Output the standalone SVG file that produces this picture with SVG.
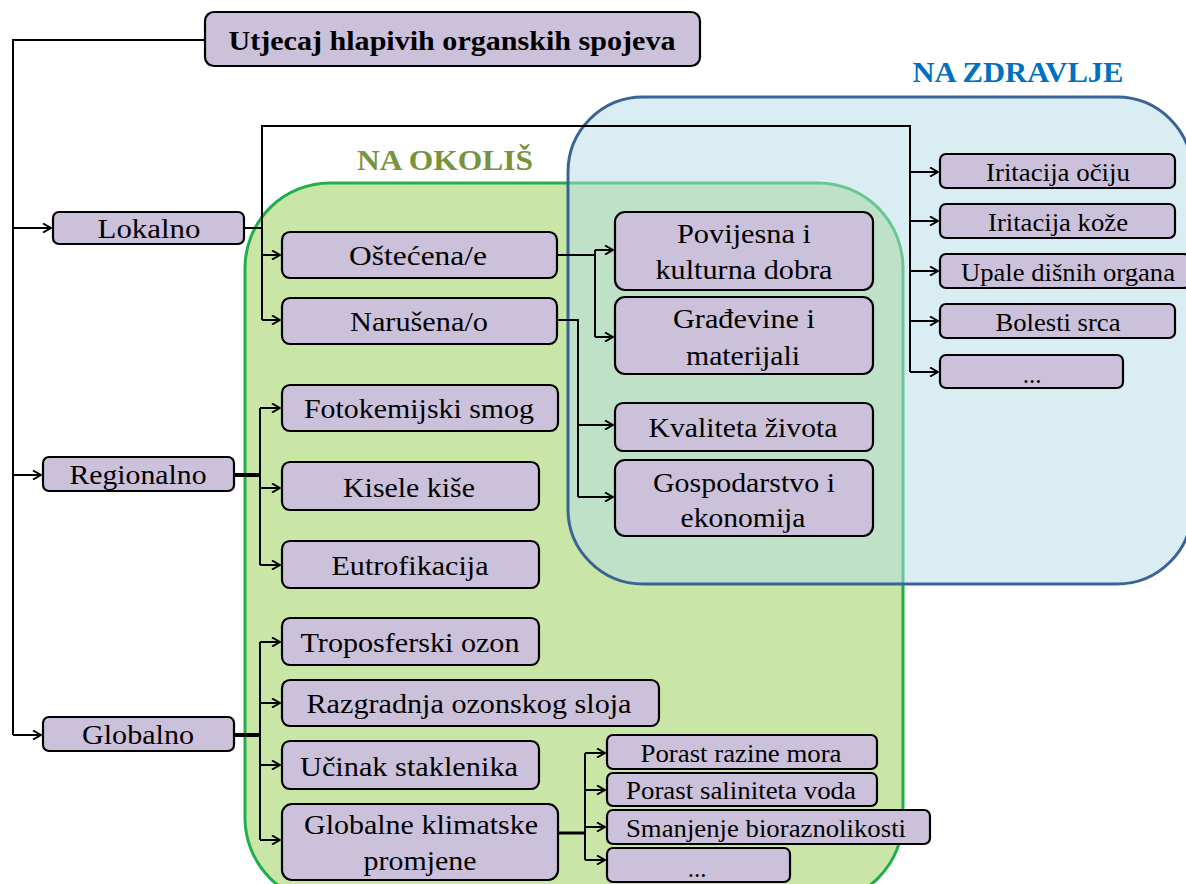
<svg xmlns="http://www.w3.org/2000/svg" width="1186" height="884" viewBox="0 0 1186 884">
<style>
.n{fill:#ccc1da;stroke:#000;stroke-width:2.2}
.t{font-size:28px;fill:#000;text-anchor:middle}
.s{font-size:25px}
.c{fill:none;stroke:#000;stroke-width:2}
.h{font-weight:bold;font-size:29px;text-anchor:middle}
</style>
<defs>
<marker id="a" viewBox="0 0 10 10" refX="9" refY="5" markerWidth="10" markerHeight="10" markerUnits="userSpaceOnUse" orient="auto">
<path d="M1,0.5 L9,5 L1,9.5" fill="none" stroke="#000" stroke-width="2"/>
</marker>
</defs>
<rect width="1186" height="884" fill="#fff"/>
<g id="area-okolis">
<rect x="245" y="183" width="658" height="720" rx="85" fill="#c9e6a7" stroke="#1fae4b" stroke-width="3"/>
<text class="h" font-family="Liberation Serif" x="445" y="170" fill="#77933c" textLength="176" lengthAdjust="spacingAndGlyphs">NA  OKOLIŠ</text>
</g>
<g id="area-zdravlje">
<rect x="568" y="97" width="624" height="487" rx="75" fill="#b5dbe7" fill-opacity="0.5" stroke="#3b6496" stroke-width="3"/>
<text class="h" font-family="Liberation Serif" x="1018" y="82" fill="#0070c0" textLength="211" lengthAdjust="spacingAndGlyphs">NA  ZDRAVLJE</text>
</g>
<g id="connectors" class="c">
<path d="M205,40 H13 V735"/>
<path d="M13,228 H51" marker-end="url(#a)"/>
<path d="M13,475 H41" marker-end="url(#a)"/>
<path d="M13,735 H41" marker-end="url(#a)"/>
<path d="M244,228 H262"/>
<path d="M262,320 V126 H910 V372"/>
<path d="M262,255 H280" marker-end="url(#a)"/>
<path d="M262,320 H280" marker-end="url(#a)"/>
<path d="M910,172 H938" marker-end="url(#a)"/>
<path d="M910,221 H938" marker-end="url(#a)"/>
<path d="M910,271 H938" marker-end="url(#a)"/>
<path d="M910,321 H938" marker-end="url(#a)"/>
<path d="M910,372 H938" marker-end="url(#a)"/>
<path d="M557,255 H595 M595,250 V337"/>
<path d="M595,250 H613" marker-end="url(#a)"/>
<path d="M595,337 H613" marker-end="url(#a)"/>
<path d="M557,320 H578 V497"/>
<path d="M578,425 H613" marker-end="url(#a)"/>
<path d="M578,497 H613" marker-end="url(#a)"/>
<path d="M234,475 H260" stroke-width="4"/>
<path d="M260,408 V565"/>
<path d="M260,408 H280" marker-end="url(#a)"/>
<path d="M260,488 H280" marker-end="url(#a)"/>
<path d="M260,565 H280" marker-end="url(#a)"/>
<path d="M234,735 H260" stroke-width="4"/>
<path d="M260,642 V840"/>
<path d="M260,642 H280" marker-end="url(#a)"/>
<path d="M260,703 H280" marker-end="url(#a)"/>
<path d="M260,765 H280" marker-end="url(#a)"/>
<path d="M260,840 H280" marker-end="url(#a)"/>
<path d="M558,833 H585" stroke-width="3"/>
<path d="M585,753 V860"/>
<path d="M585,753 H605" marker-end="url(#a)"/>
<path d="M585,790 H605" marker-end="url(#a)"/>
<path d="M585,827 H605" marker-end="url(#a)"/>
<path d="M585,860 H605" marker-end="url(#a)"/>
</g>
<g id="n-root"><rect class="n" x="205" y="12" width="495" height="54" rx="9"/><text class="t" font-family="Liberation Serif" x="452" y="50" font-weight="bold" font-size="30" textLength="447" lengthAdjust="spacingAndGlyphs">Utjecaj hlapivih organskih spojeva</text></g>
<g id="n-lokalno"><rect class="n" x="53" y="212" width="191" height="32" rx="6"/><text class="t" font-family="Liberation Serif" x="149" y="238" textLength="103" lengthAdjust="spacingAndGlyphs">Lokalno</text></g>
<g id="n-regionalno"><rect class="n" x="43" y="457" width="191" height="34" rx="6"/><text class="t" font-family="Liberation Serif" x="138" y="484" textLength="137" lengthAdjust="spacingAndGlyphs">Regionalno</text></g>
<g id="n-globalno"><rect class="n" x="43" y="717" width="191" height="34" rx="6"/><text class="t" font-family="Liberation Serif" x="138" y="744" textLength="112" lengthAdjust="spacingAndGlyphs">Globalno</text></g>
<g id="n-ostecena"><rect class="n" x="282" y="232" width="275" height="46" rx="8"/><text class="t" font-family="Liberation Serif" x="418" y="265" textLength="138" lengthAdjust="spacingAndGlyphs">Oštećena/e</text></g>
<g id="n-narusena"><rect class="n" x="282" y="298" width="275" height="46" rx="8"/><text class="t" font-family="Liberation Serif" x="419" y="331" textLength="138" lengthAdjust="spacingAndGlyphs">Narušena/o</text></g>
<g id="n-povijesna"><rect class="n" x="615" y="212" width="258" height="78" rx="10"/><text class="t" font-family="Liberation Serif" x="744" y="243" textLength="134" lengthAdjust="spacingAndGlyphs">Povijesna i</text><text class="t" font-family="Liberation Serif" x="744" y="279" textLength="177" lengthAdjust="spacingAndGlyphs">kulturna dobra</text></g>
<g id="n-gradjevine"><rect class="n" x="615" y="297" width="258" height="77" rx="10"/><text class="t" font-family="Liberation Serif" x="744" y="328" textLength="142" lengthAdjust="spacingAndGlyphs">Građevine i</text><text class="t" font-family="Liberation Serif" x="743" y="365" textLength="114" lengthAdjust="spacingAndGlyphs">materijali</text></g>
<g id="n-kvaliteta"><rect class="n" x="615" y="403" width="258" height="48" rx="8"/><text class="t" font-family="Liberation Serif" x="743" y="437" textLength="189" lengthAdjust="spacingAndGlyphs">Kvaliteta života</text></g>
<g id="n-gospodarstvo"><rect class="n" x="615" y="460" width="258" height="76" rx="10"/><text class="t" font-family="Liberation Serif" x="744" y="492" textLength="182" lengthAdjust="spacingAndGlyphs">Gospodarstvo i</text><text class="t" font-family="Liberation Serif" x="743" y="527" textLength="125" lengthAdjust="spacingAndGlyphs">ekonomija</text></g>
<g id="n-oci"><rect class="n" x="940" y="154" width="235" height="34" rx="6"/><text class="t s" font-family="Liberation Serif" x="1058" y="181" textLength="144" lengthAdjust="spacingAndGlyphs">Iritacija  očiju</text></g>
<g id="n-koza"><rect class="n" x="940" y="204" width="235" height="34" rx="6"/><text class="t s" font-family="Liberation Serif" x="1058" y="231" textLength="140" lengthAdjust="spacingAndGlyphs">Iritacija  kože</text></g>
<g id="n-disni"><rect class="n" x="940" y="254" width="250" height="34" rx="6"/><text class="t s" font-family="Liberation Serif" x="1068" y="281" textLength="214" lengthAdjust="spacingAndGlyphs">Upale dišnih  organa</text></g>
<g id="n-srce"><rect class="n" x="940" y="304" width="235" height="34" rx="6"/><text class="t s" font-family="Liberation Serif" x="1058" y="331" textLength="125" lengthAdjust="spacingAndGlyphs">Bolesti srca</text></g>
<g id="n-zdr-etc"><rect class="n" x="940" y="355" width="183" height="33" rx="6"/><text class="t s" font-family="Liberation Serif" x="1032" y="383">...</text></g>
<g id="n-smog"><rect class="n" x="282" y="385" width="276" height="46" rx="8"/><text class="t" font-family="Liberation Serif" x="419" y="418" textLength="230" lengthAdjust="spacingAndGlyphs">Fotokemijski  smog</text></g>
<g id="n-kise"><rect class="n" x="282" y="462" width="257" height="48" rx="8"/><text class="t" font-family="Liberation Serif" x="409" y="497" textLength="132" lengthAdjust="spacingAndGlyphs">Kisele kiše</text></g>
<g id="n-eutro"><rect class="n" x="282" y="541" width="257" height="47" rx="8"/><text class="t" font-family="Liberation Serif" x="410" y="575" textLength="157" lengthAdjust="spacingAndGlyphs">Eutrofikacija</text></g>
<g id="n-tropo"><rect class="n" x="282" y="618" width="257" height="47" rx="8"/><text class="t" font-family="Liberation Serif" x="410" y="652" textLength="219" lengthAdjust="spacingAndGlyphs">Troposferski ozon</text></g>
<g id="n-razgradnja"><rect class="n" x="282" y="680" width="377" height="46" rx="8"/><text class="t" font-family="Liberation Serif" x="469" y="713" textLength="325" lengthAdjust="spacingAndGlyphs">Razgradnja ozonskog sloja</text></g>
<g id="n-ucinak"><rect class="n" x="282" y="741" width="257" height="48" rx="8"/><text class="t" font-family="Liberation Serif" x="409" y="776" textLength="218" lengthAdjust="spacingAndGlyphs">Učinak staklenika</text></g>
<g id="n-klimatske"><rect class="n" x="282" y="804" width="276" height="76" rx="10"/><text class="t" font-family="Liberation Serif" x="421" y="834" textLength="234" lengthAdjust="spacingAndGlyphs">Globalne klimatske</text><text class="t" font-family="Liberation Serif" x="420" y="870" textLength="113" lengthAdjust="spacingAndGlyphs">promjene</text></g>
<g id="n-more"><rect class="n" x="607" y="735" width="270" height="34" rx="6"/><text class="t s" font-family="Liberation Serif" x="741" y="762" textLength="201" lengthAdjust="spacingAndGlyphs">Porast razine mora</text></g>
<g id="n-salinitet"><rect class="n" x="607" y="773" width="270" height="33" rx="6"/><text class="t s" font-family="Liberation Serif" x="741" y="799" textLength="230" lengthAdjust="spacingAndGlyphs">Porast saliniteta voda</text></g>
<g id="n-bio"><rect class="n" x="607" y="810" width="323" height="34" rx="6"/><text class="t s" font-family="Liberation Serif" x="766" y="837" textLength="280" lengthAdjust="spacingAndGlyphs">Smanjenje  bioraznolikosti</text></g>
<g id="n-kl-etc"><rect class="n" x="607" y="848" width="183" height="34" rx="6"/><text class="t s" font-family="Liberation Serif" x="697" y="877">...</text></g>
</svg>
